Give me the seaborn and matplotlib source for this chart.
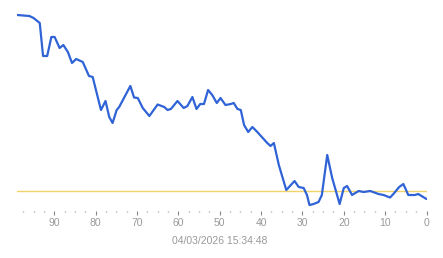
import matplotlib
matplotlib.use("Agg")
import matplotlib.pyplot as plt
import seaborn as sns
import pandas as pd
from matplotlib.ticker import MultipleLocator

# ---- data ----
ages = [99, 96, 95, 93.5, 92.7, 91.7, 90.7, 89.9, 88.7, 87.8, 86.7, 85.7, 84.7, 83.1,
        81.6, 80.7, 78.7, 77.6, 76.7, 75.9, 74.9, 74.3, 71.6, 70.7, 69.8, 68.6, 67.0,
        65.0, 63.4, 62.6, 61.8, 60.2, 58.7, 57.8, 56.6, 55.6, 54.7, 53.8, 52.8, 51.8,
        50.7, 49.8, 48.6, 47.3, 46.6, 45.7, 44.9, 44.1, 43.1, 42.1, 40.9, 38.5, 37.7,
        36.9, 35.7, 33.9, 31.9, 30.9, 29.7, 28.9, 28.3, 27.3, 26.1, 25.3, 24.0, 22.8,
        21.0, 20.0, 19.2, 18.0, 16.4, 15.2, 13.6, 11.6, 10.4, 8.8, 8.0, 6.6, 5.6, 4.4,
        2.8, 2.0, 0]
values = [176, 175, 173, 168, 135, 135, 154, 154, 143, 146, 139, 128, 132, 129,
          115, 114, 81, 90, 74, 68, 81, 84, 105, 93.5, 93, 83, 75,
          86.5, 84, 81, 82, 90, 83, 85, 94, 82, 87, 87, 101, 96,
          88, 93, 86, 87, 88, 82, 81, 66, 59, 64, 59, 48, 45,
          48, 26, 1, 10, 4, 3, -4, -14, -13, -11, -4, 36, 13,
          -13, 3, 5, -4, 0, -1, 0, -3, -4, -6.5, -3, 4, 7, -4,
          -4, -3, -8]
threshold = 0
major_ticks = [90, 80, 70, 60, 50, 40, 30, 20, 10, 0]
tick_labels = [str(t) for t in major_ticks]
timestamp = "04/03/2026 15:34:48"

df = pd.DataFrame({"age": ages, "value": values})

sns.set_style("white")
plt.rcParams["font.family"] = ["Liberation Sans", "DejaVu Sans"]

fig = plt.figure(figsize=(4.43, 2.58), dpi=100)
ax = fig.add_axes([17 / 443, (258 - 211) / 258, (426.5 - 17) / 443, 206 / 258])

ax.axhline(threshold, color="#f2d36a", lw=1.0, zorder=1)
sns.lineplot(data=df, x="age", y="value", ax=ax, color="#2f63d6", lw=1.6,
             estimator=None, sort=False, zorder=2)

ax.set_xlim(99, 0)
ax.set_ylim(-20, 186)
for s in ax.spines.values():
    s.set_visible(False)
ax.set_yticks([])
ax.set_xticks(major_ticks)
ax.set_xticklabels(tick_labels)
ax.xaxis.set_minor_locator(MultipleLocator(2.5))
ax.tick_params(axis="x", which="major", length=3.0, width=0.8, color="#888888",
               labelcolor="#999999", labelsize=7.5, pad=2, bottom=True)
ax.tick_params(axis="x", which="minor", length=1.0, width=1.0, color="#999999",
               bottom=True)
ax.set_xlabel("")
ax.set_ylabel("")

fig.text(220 / 443, 1 - 240.7 / 258, timestamp, ha="center", va="center",
         color="#999999", fontsize=7.5)

fig.savefig("out.png", dpi=100)
